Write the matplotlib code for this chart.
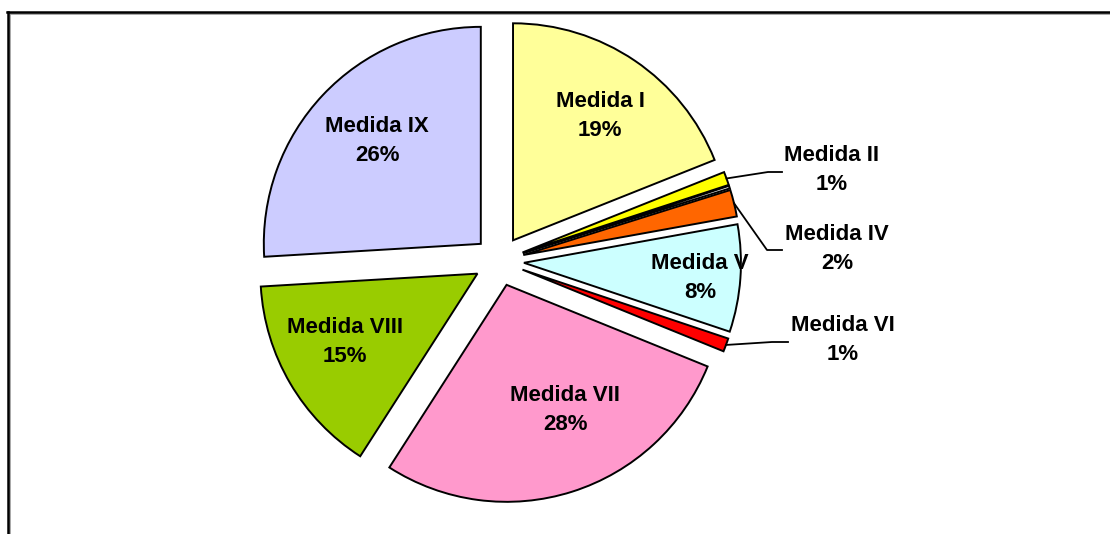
import numpy as np
import matplotlib.pyplot as plt

# dados (percentagens por medida)
names = ['Medida I', 'Medida II', 'Medida III', 'Medida IV', 'Medida V',
         'Medida VI', 'Medida VII', 'Medida VIII', 'Medida IX']
values = [19, 1, 0.2, 2, 8, 1, 28, 15, 26]
colors = ['#FFFF99', '#FFFF00', '#FFFFFF', '#FF6600', '#CCFFFF',
          '#FF0000', '#FF99CC', '#99CC00', '#CCCCFF']

W, H = 1110, 534

# posicoes dos rotulos (pixels, y para baixo); None = sem rotulo
label_pos = [(600, 116), (832, 170), None, (837, 249), (700, 278),
             (843, 340), (565, 410), (345, 342), (377, 141)]
# linhas de chamada: cotovelo e fim (pixels)
leaders = {1: [(768, 172), (782, 172)],
           3: [(767, 250), (782, 250)],
           5: [(772, 342), (788, 342)]}

plt.rcParams['font.family'] = ['Liberation Sans', 'DejaVu Sans']

fig = plt.figure(figsize=(W / 100, H / 100), dpi=100)
ax = fig.add_axes([0, 0, 1, 1])

radius = 217
center = (499, H - 261)
# no matplotlib o explode e dado em unidades de dados
explode = [25] * len(values)

wedges, _ = ax.pie(values, colors=colors, startangle=90, counterclock=False,
                   explode=explode, center=center, radius=radius,
                   wedgeprops=dict(edgecolor='black', linewidth=1.4))

for i, w in enumerate(wedges):
    pos = label_pos[i]
    if pos is None:
        continue
    txt = f"{names[i]}\n{values[i]:g}%"
    ax.text(pos[0], H - pos[1], txt, ha='center', va='center',
            fontsize=16, fontweight='bold', linespacing=1.55)
    if i in leaders:
        mid = np.deg2rad((w.theta1 + w.theta2) / 2)
        x0 = w.center[0] + w.r * np.cos(mid)
        y0 = w.center[1] + w.r * np.sin(mid)
        xs = [x0] + [p[0] for p in leaders[i]]
        ys = [y0] + [H - p[1] for p in leaders[i]]
        ax.plot(xs, ys, color='black', lw=1.3)

# moldura cortada
ax.plot([10, W], [H - 14, H - 14], color='#9a9a9a', lw=1.2, clip_on=False)
ax.plot([10, 10], [0, H - 14], color='#9a9a9a', lw=1.2, clip_on=False)
ax.plot([7, W], [H - 12, H - 12], color='black', lw=1.8, clip_on=False)
ax.plot([8, 8], [0, H - 12], color='black', lw=1.8, clip_on=False)

ax.set_xlim(0, W)
ax.set_ylim(0, H)
ax.axis('off')

fig.savefig('out.png', dpi=100)
